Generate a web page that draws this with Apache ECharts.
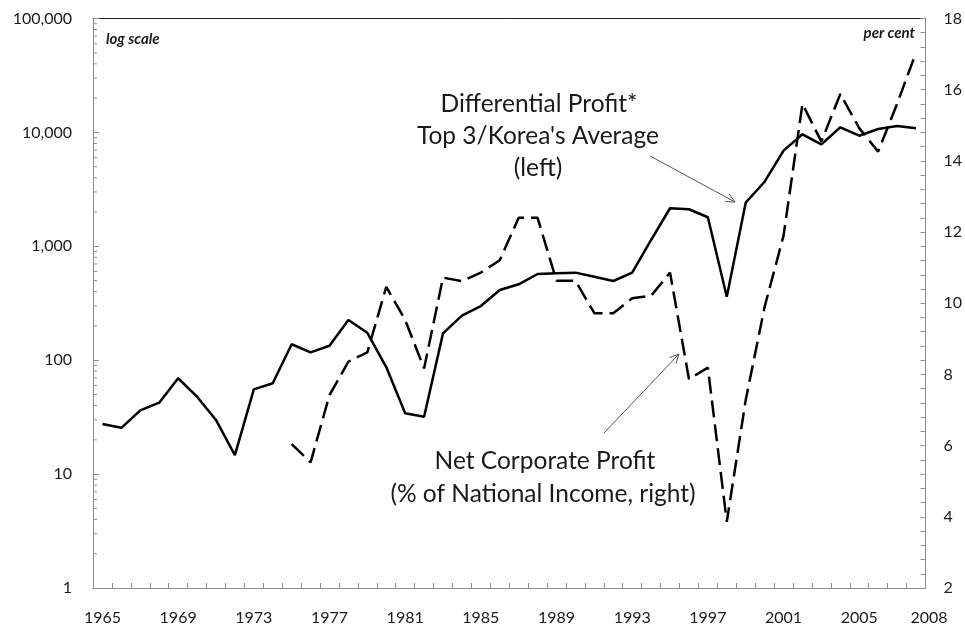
<!DOCTYPE html>
<html>
<head>
<meta charset="utf-8">
<script src="https://cdn.jsdelivr.net/npm/echarts@6/dist/echarts.min.js"></script>
<style>
  html, body { margin: 0; padding: 0; background: #fff; }
  #chart { width: 965px; height: 627px; }
</style>
</head>
<body>
<div id="chart"></div>
<script>
// years on the category axis
var years = ['1965','1966','1967','1968','1969','1970','1971','1972','1973','1974',
             '1975','1976','1977','1978','1979','1980','1981','1982','1983','1984',
             '1985','1986','1987','1988','1989','1990','1991','1992','1993','1994',
             '1995','1996','1997','1998','1999','2000','2001','2002','2003','2004',
             '2005','2006','2007','2008'];

// Differential profit, top 3 / Korea's average (left, log)
var differential = [27.5, 25.5, 36.3, 42.4, 69.4, 47.8, 29.9, 14.7, 55.5, 62.7,
                    138, 117, 134, 225, 174, 87, 34.2, 31.9, 172, 246,
                    299, 413, 464, 571, 580, 587, 541, 496, 587, 1136,
                    2158, 2115, 1800, 361, 2414, 3690, 6920, 9620, 7860, 11090,
                    9350, 10710, 11380, 10860];

// Net corporate profit, % of national income (right)
var netProfit = [null, null, null, null, null, null, null, null, null, null,
                 6.04, 5.53, 7.42, 8.36, 8.62, 10.46, 9.53, 8.17, 10.72, 10.62,
                 10.86, 11.21, 12.40, 12.40, 10.63, 10.63, 9.72, 9.72, 10.14, 10.21,
                 10.86, 7.87, 8.19, 3.86, 7.28, 9.9, 11.9, 15.6, 14.54, 15.88,
                 14.92, 14.26, 15.6, 17.04];

var leftTickLabels = ['1', '10', '100', '1,000', '10,000', '100,000'];
var leftMinorTicks = [2,3,4,5,6,7,8,9, 20,30,40,50,60,70,80,90,
                      200,300,400,500,600,700,800,900, 2000,3000,4000,5000,6000,7000,8000,9000,
                      20000,30000,40000,50000,60000,70000,80000,90000];

var FONT = 'Lato';
var AXIS_GRAY = '#8f8f8f';
var TXT = '#1a1a1a';

var chart = echarts.init(document.getElementById('chart'));

// small open arrow head for the annotation pointers
function arrow(x1, y1, x2, y2) {
    var a = Math.atan2(y2 - y1, x2 - x1), L = 10, s = 0.45;
    return [
        { type: 'line', shape: { x1: x1, y1: y1, x2: x2, y2: y2 }, style: { stroke: '#555', lineWidth: 1 } },
        { type: 'polyline', shape: { points: [
            [x2 - L * Math.cos(a - s), y2 - L * Math.sin(a - s)],
            [x2, y2],
            [x2 - L * Math.cos(a + s), y2 - L * Math.sin(a + s)]
        ] }, style: { stroke: '#555', lineWidth: 1, fill: null } }
    ];
}

function label(text, x, y, opts) {
    return {
        type: 'text', x: x, y: y,
        style: Object.assign({
            text: text, font: '24.5px ' + FONT, fill: TXT,
            textAlign: 'center', textVerticalAlign: 'middle'
        }, opts || {})
    };
}

var graphics = [
    label('log scale', 106, 39, { font: 'italic bold 15px ' + FONT, textAlign: 'left' }),
    label('per cent', 915, 33, { font: 'italic bold 15px ' + FONT, textAlign: 'right' }),
    label('Differential Profit*', 539, 104),
    label("Top 3/Korea's Average", 538, 136),
    label('(left)', 538, 168),
    label('Net Corporate Profit', 545, 461),
    label('(% of National Income, right)', 543, 494)
].concat(arrow(650, 156, 735, 202)).concat(arrow(604, 433, 679, 354));

var option = {
    animation: false,
    backgroundColor: '#fff',
    grid: { left: 93, right: 38, top: 18.5, bottom: 39 },
    xAxis: [{
        type: 'category',
        data: years,
        boundaryGap: true,
        axisLine: { lineStyle: { color: AXIS_GRAY, width: 1 } },
        axisTick: { show: true, inside: true, length: 5, interval: 0, lineStyle: { color: AXIS_GRAY } },
        axisLabel: {
            interval: function (i) { return i % 4 === 0 || i === years.length - 1; },
            margin: 22,
            color: TXT, fontFamily: FONT, fontSize: 16,
            formatter: function (v, i) {
                return i === years.length - 1 ? '{e|' + v + '}' : v;
            },
            rich: { e: { padding: [0, 0, 0, 26], color: TXT, fontFamily: FONT, fontSize: 16 } }
        },
        splitLine: { show: false }
    }, {
        type: 'category',
        data: years,
        position: 'top',
        axisLine: { lineStyle: { color: '#222', width: 1 } },
        axisTick: { show: false },
        axisLabel: { show: false }
    }],
    yAxis: [{
        type: 'log',
        logBase: 10,
        min: 1,
        max: 100000,
        position: 'left',
        axisLine: { show: true, lineStyle: { color: AXIS_GRAY } },
        axisTick: { show: true, inside: true, length: 6, lineStyle: { color: AXIS_GRAY } },
        axisLabel: {
            margin: 21, color: TXT, fontFamily: FONT, fontSize: 16,
            formatter: function (v) { return leftTickLabels[Math.round(Math.log(v) / Math.LN10)]; }
        },
        splitLine: { show: false }
    }, {
        type: 'value',
        min: 2,
        max: 18,
        interval: 2,
        position: 'right',
        axisLine: { show: true, lineStyle: { color: AXIS_GRAY } },
        axisTick: { show: true, inside: true, length: 5, lineStyle: { color: AXIS_GRAY } },
        minorTick: { show: true, splitNumber: 5, length: 5, lineStyle: { color: AXIS_GRAY } },
        axisLabel: { margin: 18, color: TXT, fontFamily: FONT, fontSize: 16 },
        splitLine: { show: false }
    }],
    series: [{
        name: 'Differential Profit',
        type: 'line',
        yAxisIndex: 0,
        data: differential,
        showSymbol: false,
        symbol: 'none',
        lineStyle: { color: '#000', width: 2.5 },
        z: 3
    }, {
        name: 'Net Corporate Profit',
        type: 'line',
        yAxisIndex: 1,
        data: netProfit,
        showSymbol: false,
        symbol: 'none',
        connectNulls: false,
        lineStyle: { color: '#000', width: 2.5, type: [17, 7] },
        z: 3
    }, {
        // minor ticks of the log axis (2..9 in each decade)
        type: 'custom',
        yAxisIndex: 0,
        silent: true,
        data: leftMinorTicks.map(function (v) { return [0, v]; }),
        encode: { x: 0, y: 1 },
        renderItem: function (params, api) {
            var y = api.coord([0, api.value(1)])[1];
            var x = params.coordSys.x;
            return {
                type: 'line',
                shape: { x1: x, y1: y, x2: x + 4, y2: y },
                style: { stroke: AXIS_GRAY, lineWidth: 1 }
            };
        },
        z: 5
    }],
    graphic: graphics
};

chart.setOption(option);
</script>
</body>
</html>
